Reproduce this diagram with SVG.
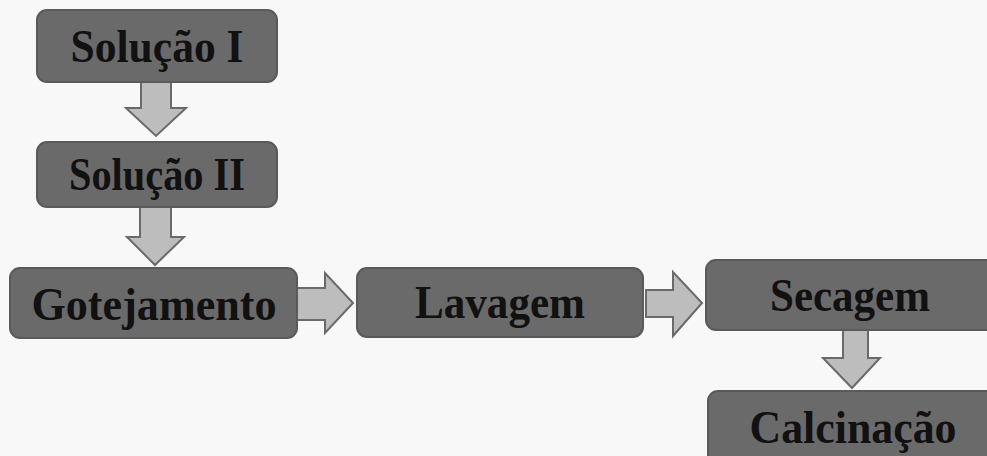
<svg xmlns="http://www.w3.org/2000/svg" width="987" height="456" viewBox="0 0 987 456">
<style>
.box{fill:#6a6a6a;stroke:#5a5a5a;stroke-width:2}
.lbl{font-family:"Liberation Serif","Times New Roman",serif;font-weight:bold;font-size:46px;fill:#111;text-anchor:middle}
.arr{fill:#bdbdbd;stroke:#6a6a6a;stroke-width:2;stroke-linejoin:miter}
</style>
<rect width="987" height="456" fill="#f8f8f8"/>
<g id="connectors">
<polygon class="arr" points="141,82 171,82 171,108 186,108 156,136 126,108 141,108"/>
<polygon class="arr" points="140,207 171,207 171,237 184,237 155,265 127,237 140,237"/>
<polygon class="arr" points="297,288 325,288 325,273 353,303 325,333 325,320 297,320"/>
<polygon class="arr" points="646,290 673,290 673,272 702,303 673,336 673,317 646,317"/>
<polygon class="arr" points="843,330 868,330 868,358 880,358 852,388 823,358 843,358"/>
</g>
<g id="solucao1"><rect class="box" x="37" y="10" width="240" height="72" rx="10"/><text class="lbl" x="157" y="62" textLength="173" lengthAdjust="spacingAndGlyphs">Solução I</text></g>
<g id="solucao2"><rect class="box" x="37" y="142" width="240" height="65" rx="10"/><text class="lbl" x="157" y="190" textLength="176" lengthAdjust="spacingAndGlyphs">Solução II</text></g>
<g id="gotejamento"><rect class="box" x="10" y="268" width="287" height="70" rx="10"/><text class="lbl" x="154" y="320" textLength="245" lengthAdjust="spacingAndGlyphs">Gotejamento</text></g>
<g id="lavagem"><rect class="box" x="357" y="268" width="286" height="69" rx="10"/><text class="lbl" x="500" y="318" textLength="170" lengthAdjust="spacingAndGlyphs">Lavagem</text></g>
<g id="secagem"><rect class="box" x="706" y="260" width="295" height="70" rx="10"/><text class="lbl" x="850" y="311" textLength="160" lengthAdjust="spacingAndGlyphs">Secagem</text></g>
<g id="calcinacao"><rect class="box" x="708" y="391" width="293" height="80" rx="10"/><text class="lbl" x="853" y="443" textLength="207" lengthAdjust="spacingAndGlyphs">Calcinação</text></g>
</svg>
